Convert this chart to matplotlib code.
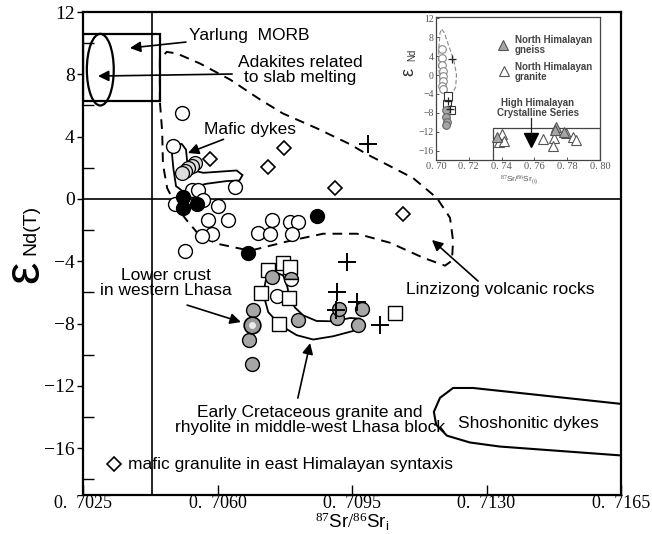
import numpy as np
import matplotlib.pyplot as plt
from matplotlib.patches import Ellipse, Rectangle, Polygon

plt.rcParams['font.family'] = ['Liberation Sans', 'DejaVu Sans']
plt.rcParams['mathtext.fontset'] = 'custom'
plt.rcParams['mathtext.rm'] = 'Liberation Serif'
plt.rcParams['mathtext.sf'] = 'Liberation Sans'
plt.rcParams['mathtext.it'] = 'Liberation Serif:italic'

# ---- main diagram data (87Sr/86Sr_i, eNd(T)) ----
open_x = [0.70508, 0.70483, 0.70646, 0.70533, 0.70550, 0.70489, 0.70562, 0.70601,
          0.70576, 0.70628, 0.70585, 0.70559, 0.70515, 0.70741, 0.70789, 0.70810,
          0.70706, 0.70737, 0.70793, 0.70756]
open_y = [5.50, 3.42, 0.77, 0.57, 0.57, -0.32, -0.07, -0.45,
          -1.35, -1.35, -2.25, -2.38, -3.32, -1.35, -1.46, -1.46,
          -2.20, -2.25, -2.25, -6.23]
dyke_x = [0.70541, 0.70533, 0.70524, 0.70515, 0.70507]
dyke_y = [2.29, 2.12, 1.97, 1.82, 1.65]
black_x = [0.70511, 0.70511, 0.70546, 0.70680, 0.70858]
black_y = [0.14, -0.60, -0.32, -3.49, -1.09]
gray_x = [0.70741, 0.70692, 0.70683, 0.70689, 0.70810, 0.70910, 0.70917, 0.70975, 0.70966]
gray_y = [-4.99, -7.13, -9.05, -10.59, -7.77, -7.66, -7.08, -7.08, -8.09]
half_x, half_y = [0.70790], [-5.16]
lowcrust_x, lowcrust_y = [0.70689], [-8.09]
square_x = [0.70732, 0.70770, 0.70789, 0.70712, 0.70787, 0.70760, 0.71062]
square_y = [-4.56, -4.13, -4.39, -6.06, -6.38, -8.03, -7.34]
diamond_x = [0.70580, 0.70732, 0.70774, 0.70907, 0.71083]
diamond_y = [2.55, 2.07, 3.25, 0.68, -0.97]
cross_x = [0.70992, 0.70936, 0.70911, 0.70962, 0.70908, 0.71023]
cross_y = [3.53, -4.03, -5.95, -6.59, -7.13, -8.09]

# field outlines
adakite_x = [0.70450, 0.70450, 0.70468, 0.70494, 0.70554, 0.70633, 0.70711, 0.70770,
             0.70859, 0.70945, 0.70989, 0.71109, 0.71171, 0.71205, 0.71213, 0.71210,
             0.71192, 0.71135, 0.71049, 0.70963, 0.70875, 0.70789, 0.70685, 0.70599,
             0.70554, 0.70521, 0.70495, 0.70469, 0.70458, 0.70456]
adakite_y = [6.25, 9.0, 9.44, 9.34, 8.70, 7.66, 6.38, 5.49,
             4.53, 3.51, 2.87, 1.34, 0.06, -1.21, -2.68, -3.96,
             -4.28, -3.77, -2.81, -2.23, -2.23, -2.68, -3.32, -2.87,
             -2.36, -1.40, -0.57, 0.70, 2.23, 4.34]
mafic_x = [0.70481, 0.70507, 0.70518, 0.70521, 0.70537, 0.70563, 0.70650, 0.70665,
           0.70657, 0.70624, 0.70572, 0.70537, 0.70511, 0.70492, 0.70485, 0.70481]
mafic_y = [3.49, 3.53, 3.17, 2.43, 1.83, 1.68, 1.83, 1.53,
           1.19, 1.15, 0.98, 0.77, 0.47, 0.83, 2.0, 3.06]
granite_x = [0.70728, 0.70719, 0.70732, 0.70763, 0.70806, 0.70849, 0.70901, 0.70953,
             0.70979, 0.70971, 0.70945, 0.70901, 0.70858, 0.70823, 0.70802, 0.70787,
             0.70782, 0.70771, 0.70750]
granite_y = [-4.91, -6.08, -7.26, -8.10, -8.74, -9.02, -8.81, -8.47,
             -8.10, -7.68, -7.64, -7.85, -7.83, -7.47, -6.98, -6.40,
             -5.66, -4.91, -4.70]
shosh_x = [0.7165, 0.71265, 0.71213, 0.71179, 0.71163, 0.71169, 0.71197, 0.71257, 0.71335, 0.7165]
shosh_y = [-13.15, -12.13, -12.13, -12.76, -13.66, -14.49, -15.19, -15.63, -15.89, -16.46]

xticks = [0.7025, 0.7060, 0.7095, 0.7130, 0.7165]
xticklabels = ['0.  7025', '0.  7060', '0.  7095', '0.  7130', '0.  7165']
yticks = [-16, -12, -8, -4, 0, 4, 8, 12]
yticklabels = ['\u221216', '\u221212', '\u22128', '\u22124', '0', '4', '8', '12']

# ---- inset data ----
in_open_x = [0.7038, 0.7038, 0.7038, 0.7040, 0.7040, 0.7042, 0.7039, 0.7045]
in_open_y = [5.57, 3.68, 2.08, 0.89, -0.16, -1.2, -2.26, -2.95]
in_sq_x = [0.7071, 0.7065, 0.7090]
in_sq_y = [-4.35, -6.1, -7.35]
in_cross_x = [0.7096, 0.7075, 0.7085]
in_cross_y = [3.34, -5.4, -7.1]
in_gray_x = [0.7059, 0.7061, 0.7065, 0.7061]
in_gray_y = [-7.5, -8.9, -9.95, -10.64]
gneiss_x = [0.7374, 0.7732, 0.7724, 0.7783]
gneiss_y = [-13.2, -11.0, -11.7, -12.0]
ngranite_x = [0.7404, 0.7386, 0.7415, 0.7654, 0.7720, 0.7712, 0.7793, 0.7834, 0.7854]
ngranite_y = [-12.4, -14.1, -13.9, -13.6, -13.4, -15.0, -12.3, -13.1, -13.8]
hhcs_x, hhcs_y = [0.7579], [-13.8]
in_field_x = [0.7035, 0.7050, 0.7080, 0.7110, 0.7125, 0.7120, 0.7100, 0.7060, 0.7025, 0.7015, 0.7018, 0.7025]
in_field_y = [9.7, 9.0, 6.0, 3.0, 0.0, -2.5, -4.0, -3.5, -1.0, 2.0, 6.0, 9.0]
in_xticks = [0.70, 0.72, 0.74, 0.76, 0.78, 0.80]
in_xticklabels = ['0. 70', '0. 72', '0. 74', '0. 76', '0. 78', '0. 80']
in_yticks = [-16, -12, -8, -4, 0, 4, 8, 12]

fig = plt.figure(figsize=(6.52, 5.34), dpi=100)
ax = fig.add_axes([0.1273, 0.0730, 0.8252, 0.9045])
ax.set_xlim(0.7025, 0.7165)
ax.set_ylim(-19, 12)

ax.axvline(0.7043, color='k', lw=1.2, zorder=1)
ax.axhline(0, color='k', lw=1.2, zorder=1)

# Yarlung MORB box and ellipse
ax.add_patch(Rectangle((0.7025, 6.3), 0.0020, 4.3, fill=False, ec='k', lw=1.6, zorder=2))
ax.add_patch(Ellipse((0.70295, 8.3), 0.0007, 4.6, fill=False, ec='k', lw=1.6, zorder=2))

ax.add_patch(Polygon(np.column_stack([adakite_x, adakite_y]), closed=True, fill=False,
                     ec='k', lw=1.4, ls=(0, (5, 3.5)), zorder=2))
ax.add_patch(Polygon(np.column_stack([mafic_x, mafic_y]), closed=True, fill=False,
                     ec='k', lw=1.3, zorder=2))
ax.add_patch(Polygon(np.column_stack([granite_x, granite_y]), closed=True, fill=False,
                     ec='k', lw=1.3, zorder=2))
ax.plot(shosh_x, shosh_y, color='k', lw=1.5, zorder=2)

ax.plot(open_x, open_y, 'o', ms=10, mfc='white', mec='k', mew=1.0, zorder=3)
ax.plot(dyke_x, dyke_y, 'o', ms=10, mfc='#dcdcdc', mec='k', mew=0.9, zorder=3)
ax.plot(black_x, black_y, 'o', ms=10, mfc='black', mec='k', mew=1.0, zorder=4)
ax.plot(square_x, square_y, 's', ms=10.5, mfc='white', mec='k', mew=1.0, zorder=4)
ax.plot(gray_x, gray_y, 'o', ms=10, mfc='#a6a6a6', mec='k', mew=1.0, zorder=5)
ax.plot(half_x, half_y, 'o', ms=10, fillstyle='top', mfc='#a6a6a6', mfcalt='white',
        mec='k', mew=1.0, zorder=5)
ax.plot(lowcrust_x, lowcrust_y, 'o', ms=12, mfc='#9a9a9a', mec='k', mew=1.2, zorder=5)
ax.plot(lowcrust_x, lowcrust_y, 'o', ms=5, mfc='#ececec', mec='none', zorder=5)
ax.plot(diamond_x, diamond_y, 'D', ms=7.5, mfc='white', mec='k', mew=1.2, zorder=4)
ax.plot(cross_x, cross_y, '+', ms=13, mec='k', mew=1.4, zorder=6)

# legend-like entry at the bottom
ax.plot([0.70331], [-17.01], 'D', ms=7.5, mfc='white', mec='k', mew=1.2, zorder=4)
ax.text(0.70367, -17.01, 'mafic granulite in east Himalayan syntaxis', fontsize=12.5,
        ha='left', va='center')

arrow = dict(arrowstyle='-|>', color='k', lw=1.2, mutation_scale=16, shrinkA=0, shrinkB=0)
ax.annotate('Yarlung  MORB', xy=(0.70372, 9.69), xytext=(0.70525, 10.5),
            fontsize=12.5, ha='left', va='center', arrowprops=arrow)
ax.annotate('', xy=(0.70289, 7.89), xytext=(0.70638, 8.02), arrowprops=arrow)
ax.text(0.70815, 8.28, 'Adakites related\nto slab melting', fontsize=12.5,
        ha='center', va='center', linespacing=1.05)
ax.annotate('Mafic dykes', xy=(0.70523, 2.95), xytext=(0.70685, 4.49),
            fontsize=12.5, ha='center', va='center', arrowprops=arrow)
ax.annotate('', xy=(0.70661, -7.90), xytext=(0.70521, -6.81), arrowprops=arrow)
ax.text(0.70466, -5.39, 'Lower crust\nin western Lhasa', fontsize=12.5,
        ha='center', va='center', linespacing=1.05)
ax.annotate('', xy=(0.70841, -9.25), xytext=(0.70809, -12.78), arrowprops=arrow)
ax.text(0.70841, -14.19, 'Early Cretaceous granite and\nrhyolite in middle-west Lhasa block',
        fontsize=12.5, ha='center', va='center', linespacing=1.05)
ax.annotate('', xy=(0.71158, -2.63), xytext=(0.71278, -5.27), arrowprops=arrow)
ax.text(0.71335, -5.84, 'Linzizong volcanic rocks', fontsize=12.5, ha='center', va='center')
ax.text(0.71408, -14.38, 'Shoshonitic dykes', fontsize=12.5, ha='center', va='center')

ax.set_xticks(xticks)
ax.set_xticklabels(xticklabels, family='Liberation Serif', fontsize=13)
ax.set_yticks(yticks)
ax.set_yticklabels(yticklabels, family='Liberation Serif', fontsize=14)
ax.set_yticks([-18, -14, -10, -6, -2, 2, 6, 10], minor=True)
ax.tick_params(axis='x', direction='in', length=7, width=1.0, pad=0)
ax.tick_params(axis='y', which='major', direction='out', length=4, width=1.0, pad=2)
ax.tick_params(axis='y', which='minor', direction='in', length=8, width=1.0)
for s in ax.spines.values():
    s.set_linewidth(1.6)

fig.text(352 / 652, 1 / 534, r'$^{87}\mathsf{Sr}/^{86}\mathsf{Sr}_{\mathsf{i}}$',
         fontsize=13.5, ha='center', va='bottom')
fig.text(25 / 652, 1 - 272 / 534, '\u03b5', fontsize=36, rotation=90, ha='center', va='center')
fig.text(31 / 652, 1 - 230 / 534, 'Nd(T)', fontsize=14, rotation=90, ha='center', va='center')

# ---- inset ----
ins = fig.add_axes([0.6687, 0.7004, 0.2515, 0.2678])
ins.set_xlim(0.70, 0.80)
ins.set_ylim(-18, 12.3)
ins.add_patch(Polygon(np.column_stack([in_field_x, in_field_y]), closed=True, fill=False,
                      ec='#888888', lw=0.8, ls=(0, (4, 2))))
ins.add_patch(Rectangle((0.735, -11.2), 0.065, -7, fill=False, ec='#444444', lw=0.9))
ins.plot(in_open_x, in_open_y, 'o', ms=5.5, mfc='white', mec='#888888', mew=0.8)
ins.plot(in_sq_x, in_sq_y, 's', ms=5.5, mfc='white', mec='#333333', mew=0.8)
ins.plot(in_gray_x, in_gray_y, 'o', ms=5.5, mfc='#a6a6a6', mec='#666666', mew=0.8)
ins.plot(in_cross_x, in_cross_y, '+', ms=6, mec='#222222', mew=0.9)
ins.plot(ngranite_x, ngranite_y, '^', ms=6.5, mfc='white', mec='#555555', mew=0.8)
ins.plot(gneiss_x, gneiss_y, '^', ms=6.5, mfc='#a6a6a6', mec='#555555', mew=0.8)
ins.plot(hhcs_x, hhcs_y, 'v', ms=10, mfc='black', mec='black')
ins.plot([0.7409], [6.34], '^', ms=7, mfc='#a6a6a6', mec='#555555', mew=0.8)
ins.plot([0.7415], [0.89], '^', ms=7, mfc='white', mec='#555555', mew=0.8)
ins.text(0.7482, 6.44, 'North Himalayan\ngneiss', fontsize=7, fontweight='bold',
         color='#444444', ha='left', va='center', linespacing=1.0)
ins.text(0.7482, 0.57, 'North Himalayan\ngranite', fontsize=7, fontweight='bold',
         color='#444444', ha='left', va='center', linespacing=1.0)
ins.text(0.7622, -7.08, 'High Himalayan\nCrystalline Series', fontsize=7, fontweight='bold',
         color='#444444', ha='center', va='center', linespacing=1.0)
ins.plot([0.7582, 0.7582], [-9.2, -12.2], color='#222222', lw=0.9)
ins.set_xticks(in_xticks)
ins.set_xticklabels(in_xticklabels, family='Liberation Serif', fontsize=7.5, color='#444444')
ins.set_yticks(in_yticks)
ins.set_yticklabels(yticklabels, family='Liberation Serif', fontsize=7, color='#444444')
ins.tick_params(direction='in', length=2.5, width=0.7, pad=1.5, colors='#555555')
for s in ins.spines.values():
    s.set_linewidth(0.9)
    s.set_color('#444444')
fig.text(519 / 652, 1 - 180 / 534, r'$^{\mathrm{87}}$Sr/$^{\mathrm{86}}$Sr$_{\mathrm{(i)}}$',
         fontsize=6, color='#555555', ha='center', va='center')
fig.text(409 / 652, 1 - 72 / 534, '\u03b5', fontsize=13, rotation=90, color='#333333',
         ha='center', va='center')
fig.text(412 / 652, 1 - 55 / 534, 'Nd', fontsize=7, rotation=90, color='#333333',
         ha='center', va='center')

fig.savefig('out.png', dpi=100)
